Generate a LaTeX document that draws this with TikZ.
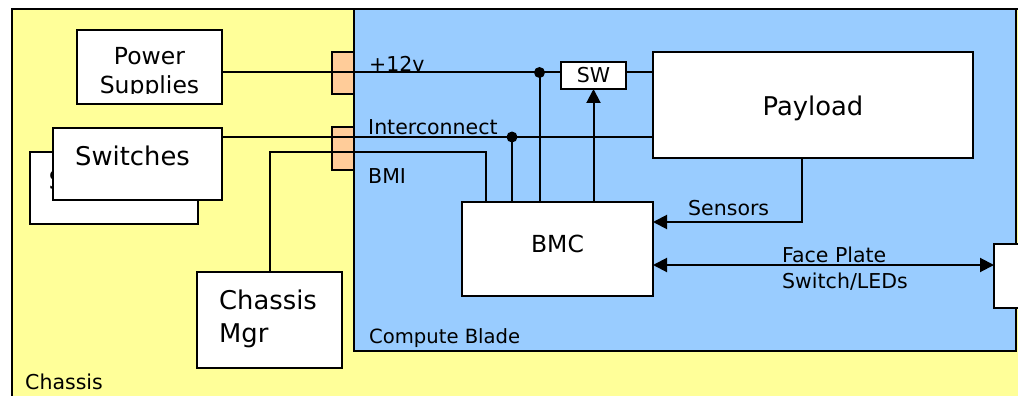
\documentclass[tikz,border=0pt]{standalone}
\usepackage{fontspec}
\setmainfont{DejaVu Sans}
\usepackage{tikz}
\usetikzlibrary{arrows.meta}
\definecolor{chassisyellow}{RGB}{255,255,153}
\definecolor{bladeblue}{RGB}{153,204,255}
\definecolor{connorange}{RGB}{255,204,153}

\begin{document}
\begin{tikzpicture}[x=1pt, y=-1pt,
  box/.style={draw, line width=2.2pt, fill=white, inner sep=0pt, outer sep=0pt, anchor=north west},
  conn/.style={box, fill=connorange},
  wire/.style={line width=2pt},
  sigarrow/.style={wire, -{Triangle[length=14pt, width=14pt]}},
  lbl/.style={inner sep=0pt, anchor=base west, font=\fontsize{20.5}{24}\selectfont},
  midtext/.style={inner sep=0pt, font=\fontsize{23.5}{28}\selectfont},
  bigtext/.style={inner sep=0pt, font=\fontsize{25.8}{31}\selectfont}]
  \useasboundingbox (0,0) rectangle (1018,396);
  \clip (0,0) rectangle (1018,396);
  \draw[line width=2.5pt, fill=chassisyellow] (12,9) rectangle (1040,420);
  \draw[line width=2.5pt, fill=bladeblue] (354,9) rectangle (1016,351);
  \node[conn, minimum width=22pt, minimum height=42pt] (cpwr) at (332,52) {};
  \node[conn, minimum width=22pt, minimum height=43pt] (cnet) at (332,127) {};
  \coordinate (j12) at (539.5,72.5);
  \coordinate (jnet) at (512,137);
  \coordinate (jbmi) at (486,152);
  \coordinate (jsens) at (802,222);
  \coordinate (jfp) at (0,265);
  \node[box, minimum width=145pt, minimum height=74pt] (ps) at (77,30) {};
  \begin{scope}
    \clip (77,30) rectangle (222,94);
    \node[midtext, anchor=base] (pst1) at (149.5,65) {Power};
    \node[midtext, anchor=base] (pst2) at (149.5,93) {Supplies};
  \end{scope}
  \node[box, minimum width=168pt, minimum height=72pt] (swback) at (30,152) {};
  \node[bigtext, anchor=base west] (swbackt) at (48.5,189) {Switches};
  \node[box, minimum width=169pt, minimum height=72pt] (sw) at (53,128) {};
  \node[bigtext, anchor=base west] (swt) at (75,165) {Switches};
  \node[box, minimum width=145pt, minimum height=96pt] (cmgr) at (197,272) {};
  \node[bigtext, anchor=base west] (cmgrt1) at (219,309) {Chassis};
  \node[bigtext, anchor=base west] (cmgrt2) at (219,342) {Mgr};
  \node[box, minimum width=191pt, minimum height=94pt] (bmc) at (462,202) {};
  \node[midtext, anchor=base] (bmct) at (557.5,252) {BMC};
  \node[box, minimum width=65pt, minimum height=27pt] (swbox) at (561,62) {};
  \node[lbl, anchor=base] (swboxt) at (593.5,83) {SW};
  \node[box, minimum width=320pt, minimum height=106pt] (pay) at (653,52) {};
  \node[bigtext, anchor=base] (payt) at (813,115) {Payload};
  \node[box, minimum width=46pt, minimum height=64pt] (fp) at (994,244) {};
  \draw[wire] (ps.east |- j12) -- (j12) -- (swbox.west |- j12);
  \draw[wire] (swbox.east |- j12) -- (pay.west |- j12);
  \draw[wire] (sw.east |- jnet) -- (jnet) -- (pay.west |- jnet);
  \draw[wire] (j12) -- (j12 |- bmc.north);
  \draw[wire] (jnet) -- (jnet |- bmc.north);
  \draw[wire] (cmgr.north) |- (jbmi) -- (jbmi |- bmc.north);
  \draw[sigarrow] (swbox.south |- bmc.north) -- (swbox.south);
  \draw[sigarrow] (pay.south -| jsens) -- (jsens) -- (bmc.east |- jsens);
  \draw[wire, {Triangle[length=14pt, width=14pt]}-{Triangle[length=14pt, width=14pt]}] (bmc.east |- jfp) -- (fp.west |- jfp);
  \foreach \p in {j12,jnet} {\fill (\p) circle (5.5pt);}
  \node[lbl] (l12) at (369,71) {+12v};
  \node[lbl] (lnet) at (368,135) {Interconnect};
  \node[lbl] (lbmi) at (368,183) {BMI};
  \node[lbl] (lsens) at (688,215) {Sensors};
  \node[lbl] (lfp1) at (782,262) {Face Plate};
  \node[lbl] (lfp2) at (782,288) {Switch/LEDs};
  \node[lbl, font=\fontsize{19.6}{24}\selectfont] (lblade) at (369,343) {Compute Blade};
  \node[lbl] (lchassis) at (25,389) {Chassis};
\end{tikzpicture}
\end{document}
